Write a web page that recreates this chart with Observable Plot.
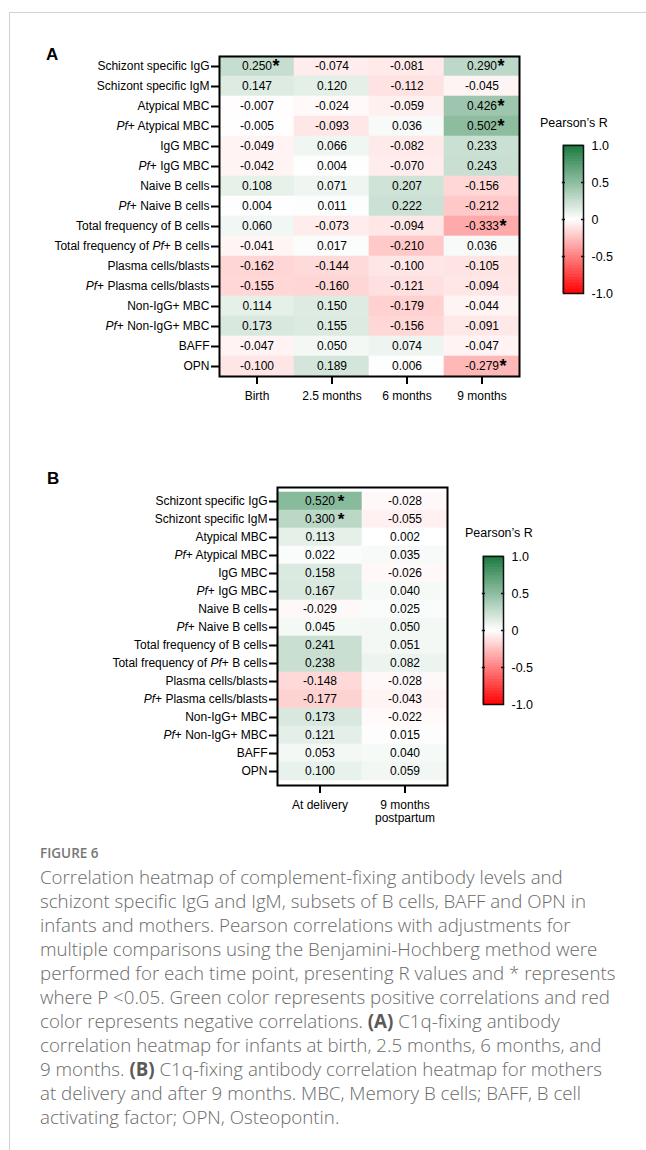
<!DOCTYPE html>
<html>
<head>
<meta charset="utf-8">
<script src="https://cdn.jsdelivr.net/npm/d3@7"></script>
<script src="https://cdn.jsdelivr.net/npm/@observablehq/plot@0.6"></script>
<style>
html,body{margin:0;padding:0;background:#fff;}
#page{position:relative;width:646px;height:1150px;overflow:hidden;font-family:"Liberation Sans",Arial,sans-serif;color:#000;}
.abs{position:absolute;}
#frameTop{left:9px;top:12px;right:0;height:1px;background:#d2d2d2;}
#frameLeft{left:9px;top:12px;bottom:0;width:1px;background:#d2d2d2;}
.panel{font-weight:bold;font-size:17px;line-height:17px;white-space:nowrap;}
.ltitle{font-size:12.5px;line-height:12.5px;white-space:nowrap;}
#figlabel{left:40px;top:843px;font-family:"Open Sans",sans-serif;font-weight:600;font-size:13.5px;line-height:20px;color:#777;}
#caption{left:40px;top:865px;font-family:"Open Sans",sans-serif;font-weight:300;font-size:16px;line-height:24px;color:#6a6a6a;white-space:nowrap;}
#caption b{font-weight:700;color:#5a5a5a;}
svg{overflow:visible;}
</style>
</head>
<body>
<div id="page">
  <div id="frameTop" class="abs"></div>
  <div id="frameLeft" class="abs"></div>
  <div class="abs panel" style="left:46px;top:46px;">A</div>
  <div class="abs panel" style="left:47px;top:470px;">B</div>
  <div id="chartA" class="abs" style="left:0;top:0;"></div>
  <div id="chartB" class="abs" style="left:0;top:440px;"></div>
  <div class="abs ltitle" style="left:540px;top:117px;">Pearson’s R</div>
  <div class="abs ltitle" style="left:465px;top:527px;">Pearson’s R</div>
  <div id="legendA" class="abs" style="left:555px;top:135px;"></div>
  <div id="legendB" class="abs" style="left:475px;top:546px;"></div>
  <div id="figlabel" class="abs">FIGURE 6</div>
  <div id="caption" class="abs">
    <div>Correlation heatmap of complement-fixing antibody levels and</div>
    <div>schizont specific IgG and IgM, subsets of B cells, BAFF and OPN in</div>
    <div>infants and mothers. Pearson correlations with adjustments for</div>
    <div>multiple comparisons using the Benjamini-Hochberg method were</div>
    <div id="longline">performed for each time point, presenting R values and * represents</div>
    <div>where P &lt;0.05. Green color represents positive correlations and red</div>
    <div>color represents negative correlations. <b>(A)</b> C1q-fixing antibody</div>
    <div>correlation heatmap for infants at birth, 2.5 months, 6 months, and</div>
    <div>9 months. <b>(B)</b> C1q-fixing antibody correlation heatmap for mothers</div>
    <div>at delivery and after 9 months. MBC, Memory B cells; BAFF, B cell</div>
    <div>activating factor; OPN, Osteopontin.</div>
  </div>
</div>
<script>
// ---------- data ----------
const rowLabels = [
  "Schizont specific IgG", "Schizont specific IgM", "Atypical MBC", "Pf+ Atypical MBC",
  "IgG MBC", "Pf+ IgG MBC", "Naive B cells", "Pf+ Naive B cells",
  "Total frequency of B cells", "Total frequency of Pf+ B cells", "Plasma cells/blasts",
  "Pf+ Plasma cells/blasts", "Non-IgG+ MBC", "Pf+ Non-IgG+ MBC", "BAFF", "OPN"
];

// Panel A: infants
const colsA = ["Birth", "2.5 months", "6 months", "9 months"];
const rBirth    = [0.250, 0.147, -0.007, -0.005, -0.049, -0.042, 0.108, 0.004, 0.060, -0.041, -0.162, -0.155, 0.114, 0.173, -0.047, -0.100];
const r2_5m     = [-0.074, 0.120, -0.024, -0.093, 0.066, 0.004, 0.071, 0.011, -0.073, 0.017, -0.144, -0.160, 0.150, 0.155, 0.050, 0.189];
const r6m       = [-0.081, -0.112, -0.059, 0.036, -0.082, -0.070, 0.207, 0.222, -0.094, -0.210, -0.100, -0.121, -0.179, -0.156, 0.074, 0.006];
const r9m       = [0.290, -0.045, 0.426, 0.502, 0.233, 0.243, -0.156, -0.212, -0.333, 0.036, -0.105, -0.094, -0.044, -0.091, -0.047, -0.279];
const sigBirth  = [1,0,0,0,0,0,0,0,0,0,0,0,0,0,0,0];
const sig2_5m   = [0,0,0,0,0,0,0,0,0,0,0,0,0,0,0,0];
const sig6m     = [0,0,0,0,0,0,0,0,0,0,0,0,0,0,0,0];
const sig9m     = [1,0,1,1,0,0,0,0,1,0,0,0,0,0,0,1];

// Panel B: mothers
const colsB = ["At delivery", "9 months postpartum"];
const rDelivery = [0.520, 0.300, 0.113, 0.022, 0.158, 0.167, -0.029, 0.045, 0.241, 0.238, -0.148, -0.177, 0.173, 0.121, 0.053, 0.100];
const r9mPost   = [-0.028, -0.055, 0.002, 0.035, -0.026, 0.040, 0.025, 0.050, 0.051, 0.082, -0.028, -0.043, -0.022, 0.015, 0.040, 0.059];
const sigDelivery = [1,1,0,0,0,0,0,0,0,0,0,0,0,0,0,0];
const sig9mPost   = [0,0,0,0,0,0,0,0,0,0,0,0,0,0,0,0];

// Legend
const legendTicks = [1, 0.5, 0, -0.5, -1];
const legendTickLabels = ["1.0", "0.5", "0", "-0.5", "-1.0"];
const colorDomain = [-1, 0, 1];
const colorRange = ["#ff0000", "#ffffff", "#1b7a40"];

// ---------- build ----------
function buildTable(cols, series, sigs) {
  const out = [];
  rowLabels.forEach((row, i) => cols.forEach((col, j) => out.push({row, col, value: series[j][i], sig: !!sigs[j][i]})));
  return out;
}
const tableA = buildTable(colsA, [rBirth, r2_5m, r6m, r9m], [sigBirth, sig2_5m, sig6m, sig9m]);
const tableB = buildTable(colsB, [rDelivery, r9mPost], [sigDelivery, sig9mPost]);

const colorScale = {type: "linear", domain: colorDomain, range: colorRange, interpolate: "rgb"};
const fmt = v => v.toFixed(3);
const FONT = "Liberation Sans, Arial, Helvetica, sans-serif";

function italicizePf(svg) {
  const nodes = Array.from(svg.querySelectorAll("text, tspan")).filter(n => n.children.length === 0 && n.textContent.includes("Pf"));
  nodes.forEach(n => {
    const parts = n.textContent.split("Pf");
    n.textContent = "";
    parts.forEach((p, k) => {
      if (k > 0) {
        const t = document.createElementNS("http://www.w3.org/2000/svg", "tspan");
        t.setAttribute("font-style", "italic");
        t.textContent = "Pf";
        n.appendChild(t);
      }
      if (p) n.appendChild(document.createTextNode(p));
    });
  });
}

function heatmap(table, cols, opts) {
  const svg = Plot.plot({
    width: opts.width, height: opts.height,
    marginLeft: opts.marginLeft, marginRight: opts.marginRight,
    marginTop: opts.marginTop, marginBottom: opts.marginBottom,
    style: {fontFamily: FONT, fontSize: "12px", color: "#000", background: "transparent", overflow: "visible"},
    x: {domain: cols, padding: 0},
    y: {domain: rowLabels, padding: 0},
    color: colorScale,
    marks: [
      Plot.cell(table, {x: "col", y: "row", fill: "value", stroke: "value", strokeWidth: 0.6, inset: 0}),
      Plot.text(table, {x: "col", y: "row", text: d => fmt(d.value), fill: "#000", fontSize: 12}),
      Plot.text(table.filter(d => d.sig && d.value >= 0), {x: "col", y: "row", text: () => "*", dx: opts.starDx, dy: 0, fontSize: opts.starSize, fontWeight: "bold", fill: "#000"}),
      Plot.text(table.filter(d => d.sig && d.value < 0), {x: "col", y: "row", text: () => "*", dx: opts.starDx + 2, dy: 0, fontSize: opts.starSize, fontWeight: "bold", fill: "#000"}),
      Plot.frame({stroke: "#000", strokeWidth: 2}),
      Plot.axisY({tickSize: 8, tickPadding: 2, strokeWidth: 2, fontSize: 12, label: null}),
      Plot.axisX({tickSize: 8, tickPadding: 6, strokeWidth: 2, fontSize: 12, label: null, lineHeight: 1.1,
                  tickFormat: d => d === "9 months postpartum" ? "9 months\npostpartum" : d})
    ]
  });
  italicizePf(svg);
  return svg;
}

document.getElementById("chartA").appendChild(heatmap(tableA, colsA, {
  width: 530, height: 410, marginLeft: 219, marginRight: 11, marginTop: 56, marginBottom: 34, starDx: 19, starSize: 18
}));
document.getElementById("chartB").appendChild(heatmap(tableB, colsB, {
  width: 460, height: 390, marginLeft: 277, marginRight: 13, marginTop: 47, marginBottom: 45, starDx: 21, starSize: 17
}));

function colorbar() {
  const steps = d3.range(-1, 1, 0.02);
  return Plot.plot({
    width: 80, height: 175, marginLeft: 8, marginRight: 52, marginTop: 10, marginBottom: 17,
    style: {fontFamily: FONT, fontSize: "12.5px", color: "#000", background: "transparent", overflow: "visible"},
    x: {domain: [0, 1], axis: null},
    y: {domain: [-1, 1], axis: null},
    color: colorScale,
    marks: [
      Plot.rect(steps, {x1: 0, x2: 1, y1: d => d, y2: d => Math.min(1, d + 0.02), fill: d => d + 0.01, stroke: d => d + 0.01, strokeWidth: 0.8}),
      Plot.frame({stroke: "#111", strokeWidth: 1.5}),
      Plot.ruleY(legendTicks.filter(t => Math.abs(t) < 1), {x1: -0.06, x2: 0.1, stroke: "#111", strokeWidth: 1.5}),
      Plot.ruleY(legendTicks.filter(t => Math.abs(t) < 1), {x1: 0.9, x2: 1.06, stroke: "#111", strokeWidth: 1.5}),
      Plot.text(legendTicks, {x: 1, y: d => d, text: (d, i) => legendTickLabels[i], textAnchor: "start", dx: 8, fontSize: 12.5, fill: "#000"})
    ]
  });
}
document.getElementById("legendA").appendChild(colorbar());
document.getElementById("legendB").appendChild(colorbar());

// fit caption width to the reference line length
(function fitCaption() {
  const cap = document.getElementById("caption");
  const ll = document.getElementById("longline");
  const span = document.createElement("span");
  span.textContent = ll.textContent;
  ll.textContent = "";
  ll.appendChild(span);
  const w = span.getBoundingClientRect().width;
  const target = 576;
  if (w > 0) cap.style.fontSize = (16 * target / w).toFixed(2) + "px";
})();
</script>
</body>
</html>
